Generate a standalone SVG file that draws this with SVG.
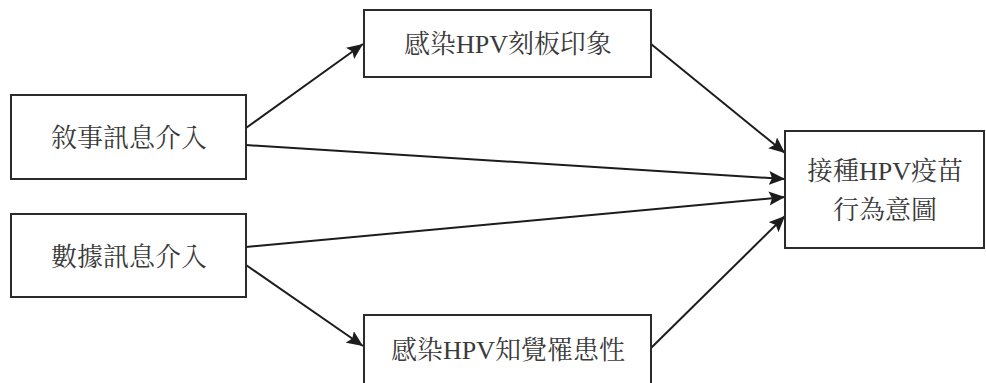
<svg xmlns="http://www.w3.org/2000/svg" width="986" height="383" viewBox="0 0 986 383">
  <style>
    .box { fill: #ffffff; stroke: #2b2b2b; stroke-width: 2; }
    .label { font-family: "Liberation Serif", "Noto Serif CJK TC", "Noto Sans CJK TC", serif; font-size: 26px; fill: #3a3a3a; text-anchor: middle; }
    .edge { stroke: #1c1c1c; stroke-width: 2; fill: none; marker-end: url(#arrow); }
  </style>
  <defs>
    <marker id="arrow" markerUnits="userSpaceOnUse" markerWidth="18" markerHeight="14" refX="16" refY="7" orient="auto">
      <path d="M0,0 L16,7 L0,14 L3,7 Z" fill="#1c1c1c"/>
    </marker>
  </defs>
  <rect width="986" height="383" fill="#ffffff"/>

  <g id="connectors">
    <line class="edge" x1="246" y1="128" x2="363" y2="44"/>
    <line class="edge" x1="246" y1="265" x2="363" y2="346"/>
    <line class="edge" x1="651" y1="44" x2="785" y2="153"/>
    <line class="edge" x1="246" y1="145" x2="785" y2="179"/>
    <line class="edge" x1="246" y1="247" x2="785" y2="197"/>
    <line class="edge" x1="651" y1="348" x2="785" y2="216"/>
  </g>

  <g id="narrative">
    <rect class="box" x="11" y="95" width="235" height="84"/>
    <text class="label" x="129" y="147">敘事訊息介入</text>
  </g>

  <g id="statistical">
    <rect class="box" x="11" y="214" width="235" height="83"/>
    <text class="label" x="129" y="266">數據訊息介入</text>
  </g>

  <g id="stereotype">
    <rect class="box" x="364" y="10" width="287" height="67"/>
    <text class="label" x="508" y="53">感染HPV刻板印象</text>
  </g>

  <g id="susceptibility">
    <rect class="box" x="364" y="315" width="287" height="72"/>
    <text class="label" x="508" y="359">感染HPV知覺罹患性</text>
  </g>

  <g id="intention">
    <rect class="box" x="785" y="131" width="199" height="117"/>
    <text class="label" x="885" y="180">接種HPV疫苗</text>
    <text class="label" x="885" y="219">行為意圖</text>
  </g>
</svg>
